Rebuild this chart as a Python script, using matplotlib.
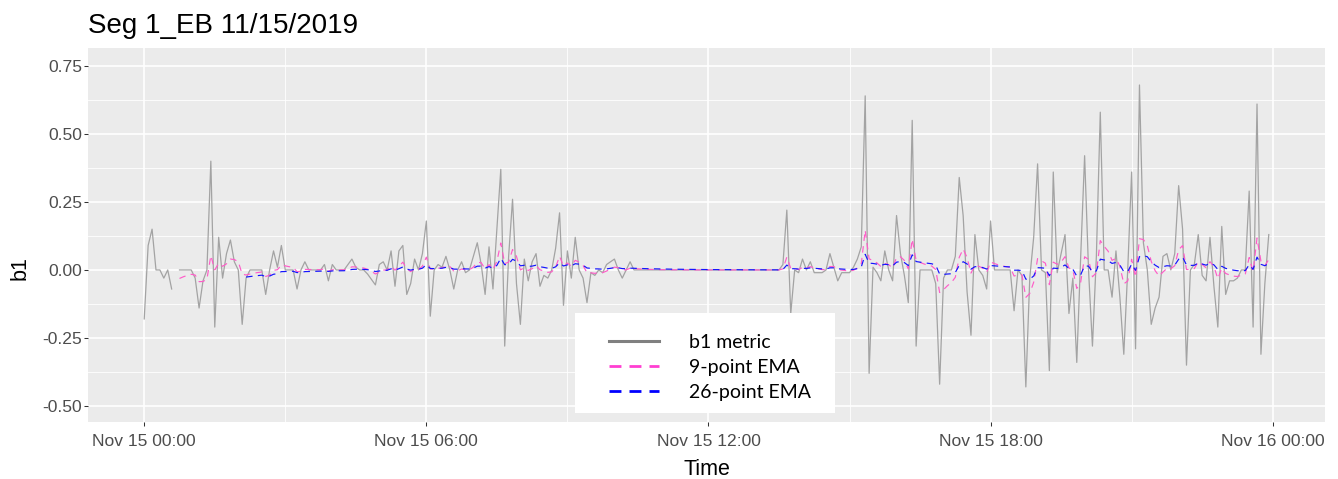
"""Seg 1_EB 11/15/2019: b1 metric with 9- and 26-point EMAs (ggplot-like look)."""
import numpy as np
import pandas as pd
import matplotlib
matplotlib.use('Agg')
import matplotlib.pyplot as plt
import matplotlib.dates as mdates
from matplotlib.lines import Line2D
from matplotlib.patches import Rectangle

START = '2019-11-15 00:00'
STEP = '5min'
nan = np.nan

# b1 metric, one row per hour (12 samples, 5 minutes apart)
B1 = [
    [-0.18, 0.09, 0.15, 0.00, 0.00, -0.03, 0.00, -0.07, nan, 0.00, 0.00, 0.00],   # 00h
    [0.00, -0.03, -0.14, -0.04, 0.00, 0.40, -0.21, 0.12, -0.03, 0.06, 0.11, 0.03],  # 01h
    [0.00, -0.20, -0.03, 0.00, 0.00, 0.00, 0.00, -0.09, 0.00, 0.07, 0.01, 0.09],   # 02h
    [0.00, 0.00, 0.00, -0.07, 0.00, 0.03, 0.00, 0.00, 0.00, 0.00, 0.02, -0.04],    # 03h
    [0.02, 0.00, 0.00, 0.00, 0.02, 0.04, 0.01, 0.00, 0.00, -0.015, -0.035, -0.055],  # 04h
    [0.02, 0.03, 0.00, 0.07, -0.06, 0.07, 0.09, -0.09, -0.05, 0.04, 0.00, 0.06],   # 05h
    [0.18, -0.17, 0.00, 0.02, 0.01, 0.05, 0.00, -0.07, 0.00, 0.03, -0.01, 0.00],   # 06h
    [0.05, 0.10, 0.02, -0.09, 0.085, -0.07, 0.15, 0.37, -0.28, 0.05, 0.26, -0.05],  # 07h
    [-0.20, 0.04, -0.04, 0.03, 0.06, -0.06, -0.02, -0.03, 0.00, 0.08, 0.21, -0.13],  # 08h
    [0.07, -0.03, 0.12, 0.00, -0.03, -0.12, -0.01, -0.02, 0.00, -0.01, 0.02, 0.03],  # 09h
    [0.04, 0.00, -0.03, 0.00, 0.03, 0.00, 0.00, 0.00, 0.00, 0.00, 0.00, 0.00],     # 10h
    [0.00, 0.00, 0.00, 0.00, 0.00, 0.00, 0.00, 0.00, 0.00, 0.00, 0.00, 0.00],      # 11h
    [0.00, 0.00, 0.00, 0.00, 0.00, 0.00, 0.00, 0.00, 0.00, 0.00, 0.00, 0.00],      # 12h
    [0.00, 0.00, 0.00, 0.00, 0.00, 0.00, 0.00, 0.02, 0.22, -0.16, 0.00, -0.01],    # 13h
    [0.04, 0.00, 0.03, -0.01, -0.01, -0.01, 0.00, 0.06, 0.01, -0.04, -0.01, -0.01],  # 14h
    [-0.01, 0.01, 0.04, 0.085, 0.64, -0.38, 0.01, -0.01, -0.04, 0.07, 0.00, -0.04],  # 15h
    [0.20, 0.06, -0.02, -0.12, 0.55, -0.28, 0.00, 0.00, 0.00, 0.00, -0.05, -0.42],  # 16h
    [-0.03, 0.00, 0.00, 0.05, 0.34, 0.20, -0.08, -0.24, 0.13, 0.00, -0.02, -0.07],  # 17h
    [0.18, 0.00, 0.00, 0.00, 0.00, 0.00, -0.15, 0.00, -0.02, -0.43, -0.03, 0.12],   # 18h
    [0.39, 0.00, -0.01, -0.37, 0.36, -0.01, 0.06, 0.13, -0.16, -0.03, -0.34, 0.05],  # 19h
    [0.42, 0.00, -0.28, 0.05, 0.58, 0.00, 0.00, -0.10, 0.07, -0.10, -0.31, 0.00],   # 20h
    [0.36, -0.29, 0.68, 0.10, 0.00, -0.20, -0.14, -0.10, 0.05, 0.06, 0.00, 0.06],   # 21h
    [0.31, 0.15, -0.35, 0.00, 0.02, 0.13, -0.02, -0.04, 0.12, -0.06, -0.21, 0.16],  # 22h
    [-0.09, -0.04, -0.04, -0.03, 0.00, 0.00, 0.29, -0.21, 0.61, -0.31, -0.05, 0.13],  # 23h
]

EMA_SPANS = [9, 26]
LABELS = ['b1 metric', '9-point EMA', '26-point EMA']
Y_TICKS = [-0.50, -0.25, 0.00, 0.25, 0.50, 0.75]

GRAY = '#A3A3A3'
PINK = '#FF5CC8'
BLUE = '#1414FF'

W, H = 1338, 479


def main() -> None:
    values = np.array(B1, dtype=float).ravel()
    times = pd.date_range(START, periods=len(values), freq=STEP)
    b1 = pd.Series(values, index=times)
    emas = [b1.ewm(span=n, adjust=False, min_periods=n).mean() for n in EMA_SPANS]

    fig = plt.figure(figsize=(W / 100, H / 100), dpi=100)
    ax = fig.add_axes([88 / W, 1 - 422 / H, (1325 - 88) / W, (422 - 48) / H])
    ax.set_facecolor('#EBEBEB')
    for s in ax.spines.values():
        s.set_visible(False)

    ax.plot(times, b1.values, color=GRAY, lw=0.9, zorder=3)
    ax.plot(times, emas[0].values, color=PINK, lw=0.85,
            linestyle=(0, (5.5, 4.5)), zorder=4)
    ax.plot(times, emas[1].values, color=BLUE, lw=0.85,
            linestyle=(0, (5.5, 4.5)), zorder=5)

    # ggplot-style 5% expansion on x
    x0, x1 = mdates.date2num(times[0]), mdates.date2num(times[-1])
    pad = 0.05 * (x1 - x0)
    ax.set_xlim(x0 - pad, x1 + pad)
    ax.set_ylim(-0.559, 0.816)

    ax.xaxis.set_major_locator(mdates.HourLocator(byhour=[0, 6, 12, 18]))
    ax.xaxis.set_minor_locator(mdates.HourLocator(byhour=[3, 9, 15, 21]))
    ax.xaxis.set_major_formatter(mdates.DateFormatter('%b %d %H:%M'))
    ax.set_yticks(Y_TICKS)
    ax.set_yticklabels([f'{v:.2f}' for v in Y_TICKS])
    ax.set_yticks([v + 0.125 for v in Y_TICKS[:-1]], minor=True)

    ax.grid(which='major', color='white', lw=1.2, zorder=1)
    ax.grid(which='minor', color='white', lw=0.6, zorder=1)
    ax.set_axisbelow(True)

    ax.tick_params(which='major', length=2.9, width=0.75, color='#333333',
                   labelsize=12.6, labelcolor='#4D4D4D')
    ax.tick_params(axis='x', pad=6.0)
    ax.tick_params(axis='y', pad=1.5)
    ax.tick_params(which='minor', length=0)
    for lab in ax.get_xticklabels() + ax.get_yticklabels():
        lab.set_family('Liberation Sans')

    ax.set_title('Seg 1_EB 11/15/2019', loc='left', fontsize=20,
                 family='Liberation Sans', pad=10.5)
    ax.set_xlabel('Time', fontsize=15.5, family='Liberation Sans', labelpad=7)
    ax.set_ylabel('b1', fontsize=15.5, family='Liberation Sans')
    ax.yaxis.set_label_coords((31 - 88) / 1237, (422 - 268) / 374)

    # legend: white box without border, pasted look
    ax.add_patch(Rectangle((575 / W, 1 - 413 / H), 260 / W, 100 / H,
                           transform=fig.transFigure, facecolor='white',
                           edgecolor='none', clip_on=False, zorder=6))
    handles = [
        Line2D([], [], color='#808080', lw=2.2),
        Line2D([], [], color='#FF3FD2', lw=2.0, linestyle=(0, (4.3, 2.9))),
        Line2D([], [], color='#0000FF', lw=2.0, linestyle=(0, (4.3, 2.9))),
    ]
    leg = ax.legend(handles, LABELS, loc='upper left',
                    bbox_to_anchor=(599 / W, 1 - 324 / H),
                    bbox_transform=fig.transFigure, frameon=False,
                    borderpad=0, handlelength=2.6, handletextpad=1.55,
                    labelspacing=0.42, prop={'family': 'Lato', 'size': 14})
    leg.set_zorder(7)

    fig.savefig('out.png', dpi=100)
    plt.close(fig)


if __name__ == '__main__':
    main()
